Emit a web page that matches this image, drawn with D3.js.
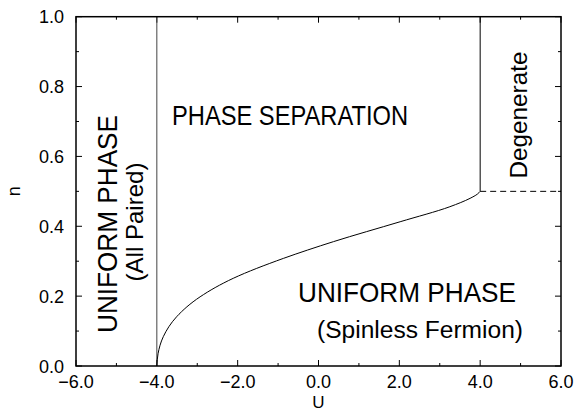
<!DOCTYPE html>
<html>
<head>
<meta charset="utf-8">
<script src="https://cdn.jsdelivr.net/npm/d3@7"></script>
<style>
    body { margin: 0; background: #fff; }
    text { font-family: 'Liberation Sans', Arial, sans-serif; fill: #000; }
    .tick-label { font-size: 18px; }
    .region { font-size: 28px; }
</style>
</head>
<body>
<div id="chart"></div>
<script>
// axis ticks
const uTicks = [-6, -4, -2, 0, 2, 4, 6];
const uMinor = [-5, -3, -1, 1, 3, 5];
const nTicks = [0, 0.2, 0.4, 0.6, 0.8, 1.0];
const nMinor = [0.1, 0.3, 0.5, 0.7, 0.9];

// phase boundary curve
const curveU = [-4.0, -3.97, -3.84, -3.51, -2.93, -2.11, -0.87, 0.37, 2.02, 3.25, 3.75, 3.93, 4.0];
const curveN = [0.0, 0.035, 0.084, 0.141, 0.198, 0.251, 0.308, 0.356, 0.413, 0.456, 0.480, 0.492, 0.5];

// straight boundaries
const pairedU = -4;
const degenerateU = 4;
const degenerateN = 0.5;

var width = 577;
var height = 412;
var margin = {left: 76, right: 16, top: 16.7, bottom: 46};

let svg = d3.select('#chart').append('svg').attr('width', width).attr('height', height);

let x = d3.scaleLinear().domain([-6, 6]).range([margin.left, width - margin.right]);
let y = d3.scaleLinear().domain([0, 1]).range([height - margin.bottom, margin.top]);

let fmt = v => d3.format('.1f')(v).replace('-', '\u2212');

// ticks (inward, on all four sides)
function tickLines(vals, len, horiz) {
    vals.forEach(v => {
        if (horiz) {
            svg.append('line').attr('x1', x(v)).attr('x2', x(v)).attr('y1', y(0)).attr('y2', y(0) - len).attr('stroke', '#000');
            svg.append('line').attr('x1', x(v)).attr('x2', x(v)).attr('y1', y(1)).attr('y2', y(1) + len).attr('stroke', '#000');
        } else {
            svg.append('line').attr('y1', y(v)).attr('y2', y(v)).attr('x1', x(-6)).attr('x2', x(-6) + len).attr('stroke', '#000');
            svg.append('line').attr('y1', y(v)).attr('y2', y(v)).attr('x1', x(6)).attr('x2', x(6) - len).attr('stroke', '#000');
        }
    });
}
tickLines(uTicks, 6, true);
tickLines(uMinor, 3, true);
tickLines(nTicks, 6, false);
tickLines(nMinor, 3, false);

uTicks.forEach(v => svg.append('text').attr('class', 'tick-label').attr('x', x(v)).attr('y', y(0) + 22).attr('text-anchor', 'middle').text(fmt(v)));
nTicks.forEach(v => svg.append('text').attr('class', 'tick-label').attr('x', x(-6) - 12).attr('y', y(v) + 6.5).attr('text-anchor', 'end').text(fmt(v)));

// axis titles
svg.append('text').attr('x', x(0)).attr('y', 408).attr('text-anchor', 'middle').style('font-size', '17px').text('U');
svg.append('text').attr('class', 'tick-label').attr('transform', `translate(20, ${y(0.5)}) rotate(-90)`).attr('text-anchor', 'middle').text('n');

// boundaries
svg.append('line').attr('x1', x(pairedU)).attr('x2', x(pairedU)).attr('y1', y(0)).attr('y2', y(1)).attr('stroke', '#444').attr('stroke-width', 1);
svg.append('line').attr('x1', x(degenerateU)).attr('x2', x(degenerateU)).attr('y1', y(degenerateN)).attr('y2', y(1)).attr('stroke', '#000').attr('stroke-width', 1);
svg.append('line').attr('x1', x(degenerateU)).attr('x2', x(6)).attr('y1', y(degenerateN)).attr('y2', y(degenerateN)).attr('stroke', '#000').attr('stroke-width', 1).attr('stroke-dasharray', '6,4');

let coords = curveU.map((u, i) => ({u: u, n: curveN[i]}));
let line = d3.line().x(d => x(d.u)).y(d => y(d.n)).curve(d3.curveMonotoneY);
svg.append('path').datum(coords).attr('d', line).attr('fill', 'none').attr('stroke', '#000').attr('stroke-width', 1);

// frame
svg.append('rect').attr('x', x(-6)).attr('y', y(1)).attr('width', x(6) - x(-6)).attr('height', y(0) - y(1)).attr('fill', 'none').attr('stroke', '#000').attr('stroke-width', 1.5);

// region labels
function label(txt, px, py, size, len, rot) {
    let t = svg.append('text').attr('text-anchor', 'middle').style('font-size', size + 'px').attr('textLength', len).attr('lengthAdjust', 'spacingAndGlyphs').text(txt);
    t.attr('transform', `translate(${px}, ${py})` + (rot ? ' rotate(-90)' : ''));
}
label('PHASE SEPARATION', 290, 125, 28, 236, false);
label('UNIFORM PHASE', 407, 302, 28, 218, false);
label('(Spinless Fermion)', 420, 338, 23, 206, false);
label('UNIFORM PHASE', 117, 224, 28, 218, true);
label('(All Paired)', 143, 222, 24, 119, true);
label('Degenerate', 527, 115, 23, 127, true);
</script>
</body>
</html>
